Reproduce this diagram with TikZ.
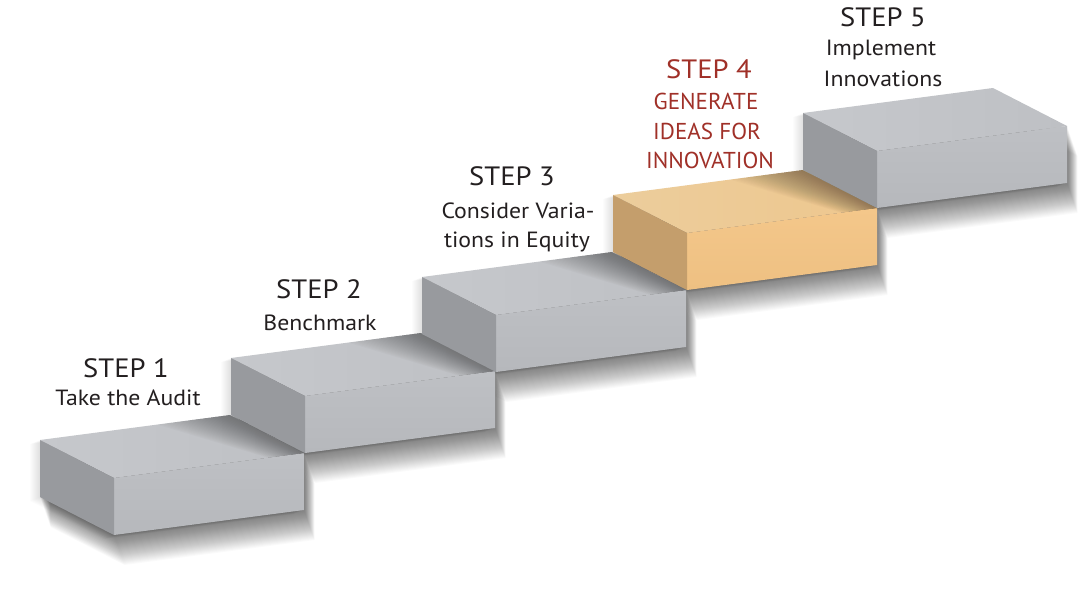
\documentclass[tikz,border=0pt]{standalone}
\usepackage{fontspec}
\setmainfont{PT Sans}[FakeStretch=1.08]
\usetikzlibrary{calc}
\definecolor{gtopA}{RGB}{198,200,204}
\definecolor{gtopB}{RGB}{190,192,196}
\definecolor{gfrontA}{RGB}{190,192,196}
\definecolor{gfrontB}{RGB}{182,184,188}
\definecolor{gleft}{RGB}{152,154,158}
\definecolor{otopA}{RGB}{236,205,156}
\definecolor{otopB}{RGB}{238,199,142}
\definecolor{ofrontA}{RGB}{244,199,138}
\definecolor{ofrontB}{RGB}{238,192,130}
\definecolor{oleft}{RGB}{196,158,108}
\definecolor{txt}{RGB}{35,31,32}
\definecolor{redtxt}{RGB}{160,48,40}

\newcommand\blockshadow[2]{%
 \begin{scope}[shift={(#1,#2)}]
  \foreach \i in {1,...,30}{
    \fill[black,opacity=0.019] (\i*0.35,\i*1) -- ++(190,-25) -- ++(74,38) -- ++(0,57) -- ++(-190,25) -- ++(-74,-38) -- cycle;
  }
  \foreach \i in {1,...,10}{
    \fill[black,opacity=0.012] (-\i*1,\i*0.4) -- ++(190,-25) -- ++(74,38) -- ++(0,57) -- ++(-190,25) -- ++(-74,-38) -- cycle;
  }
 \end{scope}}

\newcommand\blockfaces[3]{%
 \begin{scope}[shift={(#1,#2)}]
  \shade[left color=#3topA,right color=#3topB] (0,0) -- (190,-25) -- (264,13) -- (74,38) -- cycle;
  \shade[top color=#3frontA,bottom color=#3frontB] (74,38) -- (264,13) -- (264,70) -- (74,95) -- cycle;
  \fill[#3left] (0,0) -- (74,38) -- (74,95) -- (0,57) -- cycle;
 \end{scope}}

\newcommand\topshade[2]{%
 \begin{scope}[shift={(#1,#2)}]
  \begin{scope}
   \clip (0,0) -- (190,-25) -- (264,13) -- (74,38) -- cycle;
   \foreach \i in {1,...,26}{
    \fill[black,opacity=0.017] (190,-25) -- (264,13) -- (264-\i*1.4,13+\i*0.18) -- (190-\i*2.8,-25+\i*0.37) -- cycle;
   }
  \end{scope}
 \end{scope}}

\tikzset{
 steptitle/.style={anchor=base,text=txt,inner sep=0pt,font=\fontsize{26.5}{30}\selectfont},
 stepsub/.style={anchor=base,text=txt,inner sep=0pt,font=\fontsize{22}{26}\selectfont},
 redtitle/.style={anchor=base,text=redtxt,inner sep=0pt,font=\fontsize{26.5}{30}\selectfont},
 redsub/.style={anchor=base,text=redtxt,inner sep=0pt,transform shape,xscale=0.93,font=\fontsize{23}{27}\selectfont}
}

\begin{document}
\begin{tikzpicture}[x=1pt,y=-1pt]
\useasboundingbox (0,0) rectangle (1092,594);
\fill[white] (0,0) rectangle (1092,594);

% drop shadows
\blockshadow{40}{440}
\blockshadow{231}{358}
\blockshadow{422}{277}
\blockshadow{613}{195}
\blockshadow{803}{113}

% blocks
\blockfaces{40}{440}{g}
\topshade{40}{440}
\blockfaces{231}{358}{g}
\topshade{231}{358}
\blockfaces{422}{277}{g}
\topshade{422}{277}
\blockfaces{613}{195}{o}
\topshade{613}{195}
\blockfaces{803}{113}{g}

% texts
\node[steptitle] (s1) at (126,377) {STEP 1};
\node[stepsub] (s1a) at (128,405) {Take the Audit};

\node[steptitle] (s2) at (319,298) {STEP 2};
\node[stepsub] (s2a) at (320,330) {Benchmark};

\node[steptitle] (s3) at (512,185) {STEP 3};
\node[stepsub] (s3a) at (518,218) {Consider Varia-};
\node[stepsub] (s3b) at (517,247) {tions in Equity};

\node[redtitle] (s4) at (709,78) {STEP 4};
\node[redsub] (s4a) at (706,110) {GENERATE};
\node[redsub] (s4b) at (707,139) {IDEAS FOR};
\node[redsub] (s4c) at (710,168) {INNOVATION};

\node[steptitle] (s5) at (883,27) {STEP 5};
\node[stepsub] (s5a) at (881,56) {Implement};
\node[stepsub] (s5b) at (883,86) {Innovations};
\end{tikzpicture}
\end{document}
